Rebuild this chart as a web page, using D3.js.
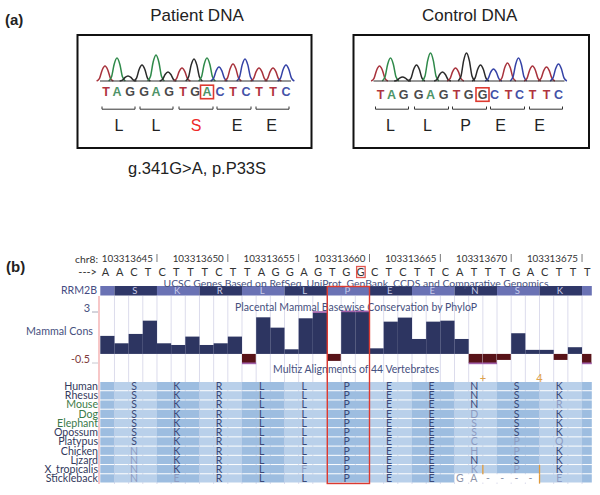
<!DOCTYPE html>
<html><head><meta charset="utf-8">
<script src="https://cdn.jsdelivr.net/npm/d3@7"></script>
<style>html,body{margin:0;padding:0;background:#fff}svg{display:block}</style></head>
<body><svg id="c" width="600" height="495" font-family="'Liberation Sans',Arial,sans-serif"></svg>
<script>
// ---- panel (a) data ----
const readBases = ["T","A","G","G","A","G","T","G","A","C","T","C","T","T","C"];
const controlBases = ["T","A","G","G","A","G","T","G","G","C","T","C","T","T","C"];
const patientPeakPos = [5,17,28,42,56,68,82,94,107,119,133,145,159,173,186];
const patientPeakHeight = [15,23,5,16,26,9,13,22,23,14,17,22,13,13,16];
const controlPeakPos = [6,17,29,43,57,69,82,93,107,120,134,145,159,173,185];
const controlPeakHeight = [15,23,4,16,28,9,13,28,16,12,18,23,15,14,17];
const patientLetterPos = [6,17,30,44,56,69,83,95,107,120,133,146,159,173,186];
const controlLetterPos = [7,18,30,45,57,70,83,95,109,121,135,146,159,173,185];
const patientAA = ["L","L","S","E","E"], controlAA = ["L","L","P","E","E"];
const patientAAPos = [19,56,96,137,171.5], controlAAPos = [17,54,92,127,166];
const patientCodon = [[2,35],[40,73],[79,113],[117,151],[156,189]];
const controlCodon = [[2,35],[41,75],[79,113],[117,151],[156,189]];
const baseColor = {T:"#a8323c",A:"#2f8a4a",G:"#2a2a2a",C:"#3442a6"};
const textColor = {T:"#b0343e",A:"#4d9468",G:"#4a4a4a",C:"#4452a8"};

// ---- panel (b) data ----
const genomicSeq = "AACTCTTTCTTAGGAGTGGCTCTTCATTTGACTTT".split("");
const coordLabels = ["103313645","103313650","103313655","103313660","103313665","103313670","103313675"];
const coordColumn = [4,9,14,19,24,29,34];
const cons = [1.29,0.76,1.43,2.38,0.76,0.64,1.24,0.64,0.76,1.24,-0.65,2.62,1.88,0.33,2.55,2.95,-0.5,3,3,0.4,2.31,2.6,1.07,2.31,2.38,1.07,-0.65,-0.65,-0.43,1.48,0.29,0.29,-0.43,0.48,-0.65];
const codonStart = [1,4,7,10,13,16,19,22,25,28,31];
const aminoAcids = ["S","K","R","L","L","P","E","E","N","S","K"];
const species = ["Human","Rhesus","Mouse","Dog","Elephant","Opossum","Platypus","Chicken","Lizard","X_tropicalis","Stickleback"];
const greenSpecies = ["Mouse","Dog","Elephant"];
// lowercase = non-matching, drawn faint; "." = unaligned
const alignment = ["SKRLLPEENSK","SKRLLPEENSK","SKRLLPEENSr","SKRLLPEEdSK","SKRLLPEEsSK","SKRLLPEEsSK","SKRLLPEEcpq","nKRLLPEEhpK","nKRLLPEENSK","nKRLfPEEkpK","neRLLPEE..e"];
const sticklebackGap = ["G","A","-","-","-","-"];
const insertMarks = [[27,"+",[9]],[31,"4",[9,10]]];

const svg = d3.select("#c");
const RED = "#dd3a30";

const txt = (g,x,y,s,o={})=>{
  const t = g.append("text").attr("x",x).attr("y",y).attr("dy","0.35em").text(s)
    .attr("font-size",o.size||10).attr("fill",o.fill||"#222").attr("text-anchor",o.anchor||"start");
  if(o.weight) t.attr("font-weight",o.weight);
  if(o.family) t.attr("font-family",o.family);
  return t;
};

txt(svg,5,20,"(a)",{size:15,weight:"bold"});
txt(svg,6,267,"(b)",{size:15,weight:"bold"});
txt(svg,197,15,"Patient DNA",{size:17,anchor:"middle"});
txt(svg,469.7,15,"Control DNA",{size:17,anchor:"middle"});
txt(svg,197,168,"g.341G>A, p.P33S",{size:16.5,anchor:"middle"});

const peakShape = [[-1.1,0],[-0.72,0.18],[-0.38,0.72],[0,1],[0.38,0.72],[0.72,0.18],[1.1,0]];

function chromatogram(o){
  const g = svg.append("g");
  g.append("rect").attr("x",o.box[0]).attr("y",35).attr("width",o.box[1]-o.box[0]).attr("height",113)
    .attr("fill","#fff").attr("stroke","#111").attr("stroke-width",2);
  const x = d3.scaleLinear().domain([0,191]).range([o.left,o.left+191]);
  const y = d3.scaleLinear().domain([0,30]).range([81,51]);
  const line = d3.line().x(d=>d[0]).y(d=>d[1]).curve(d3.curveMonotoneX);
  o.pos.forEach((p,i)=>{
    const pts = peakShape.map(s=>[x(p+s[0]*7.6), y(o.h[i]*s[1])]);
    g.append("path").attr("d",line(pts)).attr("fill","none").attr("stroke",baseColor[o.bases[i]]).attr("stroke-width",1.5);
  });
  g.append("line").attr("x1",x(0)).attr("x2",x(191)).attr("y1",81).attr("y2",81).attr("stroke","#333").attr("stroke-width",1.2);
  o.lpos.forEach((p,i)=>{
    txt(g,x(p),o.ly,o.bases[i],{size:12.5,anchor:"middle",fill:textColor[o.bases[i]],weight:"bold"});
  });
  const bi = o.boxed;
  g.append("rect").attr("x",x(o.lpos[bi])-6.5).attr("y",o.ly-6.5).attr("width",13).attr("height",13.5)
    .attr("fill","none").attr("stroke",RED).attr("stroke-width",1.6);
  o.codon.forEach(c=>{
    g.append("path").attr("d",`M${x(c[0])},106.5V109.2H${x(c[1])}V106.5`).attr("fill","none").attr("stroke","#333").attr("stroke-width",1);
  });
  o.aa.forEach((a,i)=>txt(g,x(o.aapos[i]),125,a,{size:16,anchor:"middle",fill:a==="S"?"#ee2a2a":"#222"}));
}
chromatogram({box:[77.5,311.5],left:100,pos:patientPeakPos,h:patientPeakHeight,bases:readBases,lpos:patientLetterPos,ly:91.7,boxed:8,codon:patientCodon,aa:patientAA,aapos:patientAAPos});
chromatogram({box:[353.5,589],left:373.5,pos:controlPeakPos,h:controlPeakHeight,bases:controlBases,lpos:controlLetterPos,ly:94.3,boxed:8,codon:controlCodon,aa:controlAA,aapos:controlAAPos});

// ---- panel (b) ----
const b = svg.append("g");
const F = "Lato,sans-serif";
const col = d3.scaleLinear().domain([0,35]).range([100.3,596.2]);
const rightEdge = 591.8;
const cx = i => Math.min(col(i),rightEdge);
const LO = 5.2;
const NAVY="#2d3561", LBL="#46507e";

txt(b,98,259,"chr8:",{size:10.3,anchor:"end",family:F,fill:"#333"});
txt(b,97,272,"--->",{size:11,anchor:"end",family:F,fill:"#333"});
coordLabels.forEach((c,i)=>{
  txt(b,col(coordColumn[i])-4,259,c,{size:9.8,anchor:"end",family:F,fill:"#333"});
  b.append("line").attr("x1",col(coordColumn[i])).attr("x2",col(coordColumn[i])).attr("y1",254).attr("y2",262).attr("stroke","#555").attr("stroke-width",0.8);
});
genomicSeq.forEach((s,i)=>txt(b,col(i)+LO,272,s,{size:11,anchor:"middle",family:F,fill:"#333"}));
b.append("rect").attr("x",col(18)+1.3).attr("y",266.5).attr("width",8.5).attr("height",11)
  .attr("fill","none").attr("stroke",RED).attr("stroke-width",1.3).attr("opacity",0.85);

const gridIdx = d3.range(1,35);
b.selectAll("line.grid").data(gridIdx).join("line").attr("x1",d=>col(d)).attr("x2",d=>col(d)).attr("y1",296).attr("y2",484)
  .attr("stroke","#dcdcec").attr("stroke-width",1);

b.append("line").attr("x1",99).attr("x2",99).attr("y1",296).attr("y2",484).attr("stroke","#f5b9ba").attr("stroke-width",1.6);

const LIGHT="#6a72b4", DARK="#2f3768";
const trackEdges = [0].concat(codonStart,[34,35]);
trackEdges.slice(0,-1).forEach((e,i)=>{
  b.append("rect").attr("x",cx(e)).attr("width",cx(trackEdges[i+1])-cx(e)).attr("y",286).attr("height",9.5)
   .attr("fill",i%2===0?LIGHT:DARK);
});
codonStart.forEach((s,i)=>txt(b,col(s+1.5)-1,290.5,aminoAcids[i],{size:9.5,anchor:"middle",family:F,fill:"#c9cdea"}));
txt(b,97,290.5,"RRM2B",{size:10.6,anchor:"end",family:F,fill:"#454c82"});
txt(b,356,283,"UCSC Genes Based on RefSeq, UniProt, GenBank, CCDS and Comparative Genomics",{size:10.4,anchor:"middle",family:F,fill:LBL});

const yCons = d3.scaleLinear().domain([-0.65,3]).range([363,312]);
b.selectAll("rect.cons").data(cons).join("rect")
  .attr("x",(d,i)=>cx(i)).attr("width",(d,i)=>cx(i+1)-cx(i)-(d<0?0.4:0))
  .attr("y",d=>d>=0?yCons(d):yCons(0)).attr("height",d=>Math.abs(yCons(d)-yCons(0)))
  .attr("fill",d=>d>=0?NAVY:"#581318");
cons.forEach((d,i)=>{
  if(d>=2.95||d<=-0.6){
    b.append("rect").attr("x",cx(i)).attr("width",cx(i+1)-cx(i)).attr("y",d>0?yCons(d)-1.5:yCons(d)-0.5).attr("height",1.7).attr("fill","#a05fa8");
  }
});
txt(b,87,308,"3",{size:11,anchor:"middle",family:F,fill:LBL});
b.append("line").attr("x1",92).attr("x2",98).attr("y1",312).attr("y2",312).attr("stroke","#a8a8b8");
txt(b,93,331.7,"Mammal Cons",{size:10.7,anchor:"end",family:F,fill:LBL});
txt(b,90,359,"-0.5",{size:10.7,anchor:"end",family:F,fill:"#7d3a3c"});
b.append("line").attr("x1",92).attr("x2",98).attr("y1",363).attr("y2",363).attr("stroke","#c8c8d0");
txt(b,356,307,"Placental Mammal Basewise Conservation by PhyloP",{size:10.5,anchor:"middle",family:F,fill:LBL});
txt(b,356,369,"Multiz Alignments of 44 Vertebrates",{size:10.5,anchor:"middle",family:F,fill:LBL});

const yRow = d3.scaleBand().domain(d3.range(species.length)).range([382,483.5]);
species.forEach((sp,r)=>{
  trackEdges.slice(0,-1).forEach((e,i)=>{
    const x0 = cx(e), x1 = cx(trackEdges[i+1]);
    let fill = i%2===0?"#9dbde0":"#b9d0ea";
    if(r===10 && (e===25||e===28)) fill = "#ffffff";
    b.append("rect").attr("x",x0).attr("width",x1-x0).attr("y",yRow(r)).attr("height",yRow.bandwidth()-1).attr("fill",fill);
  });
  txt(b,98,yRow(r)+yRow.bandwidth()/2-0.3,sp,{size:10.6,anchor:"end",family:F,fill:greenSpecies.includes(sp)?"#3a7a48":"#33395c"});
  alignment[r].split("").forEach((ch,i)=>{
    if(ch===".")return;
    const faint = ch===ch.toLowerCase();
    txt(b,col(codonStart[i]+1.5)-1.6,yRow(r)+yRow.bandwidth()/2-0.3,ch.toUpperCase(),{size:10.5,anchor:"middle",family:F,fill:faint?"#8d9cc2":"#3b4a78"});
  });
});
sticklebackGap.forEach((s,i)=>txt(b,col(25+i)+LO,yRow(10)+yRow.bandwidth()/2-0.3,s,{size:10.5,anchor:"middle",family:F,fill:"#8d93a8"}));
insertMarks.forEach(m=>{
  txt(b,col(m[0]),378,m[1],{size:11,anchor:"middle",family:F,fill:"#e0a24a"});
  m[2].forEach(r=>b.append("line").attr("x1",col(m[0])).attr("x2",col(m[0])).attr("y1",yRow(r)).attr("y2",yRow(r)+yRow.bandwidth()).attr("stroke","#e09a3a").attr("stroke-width",1.3));
});

b.append("rect").attr("x",col(16)+0.3).attr("y",286.5).attr("width",col(19)-col(16)-0.3).attr("height",197)
  .attr("fill","none").attr("stroke",RED).attr("stroke-width",1.4);
</script></body></html>
